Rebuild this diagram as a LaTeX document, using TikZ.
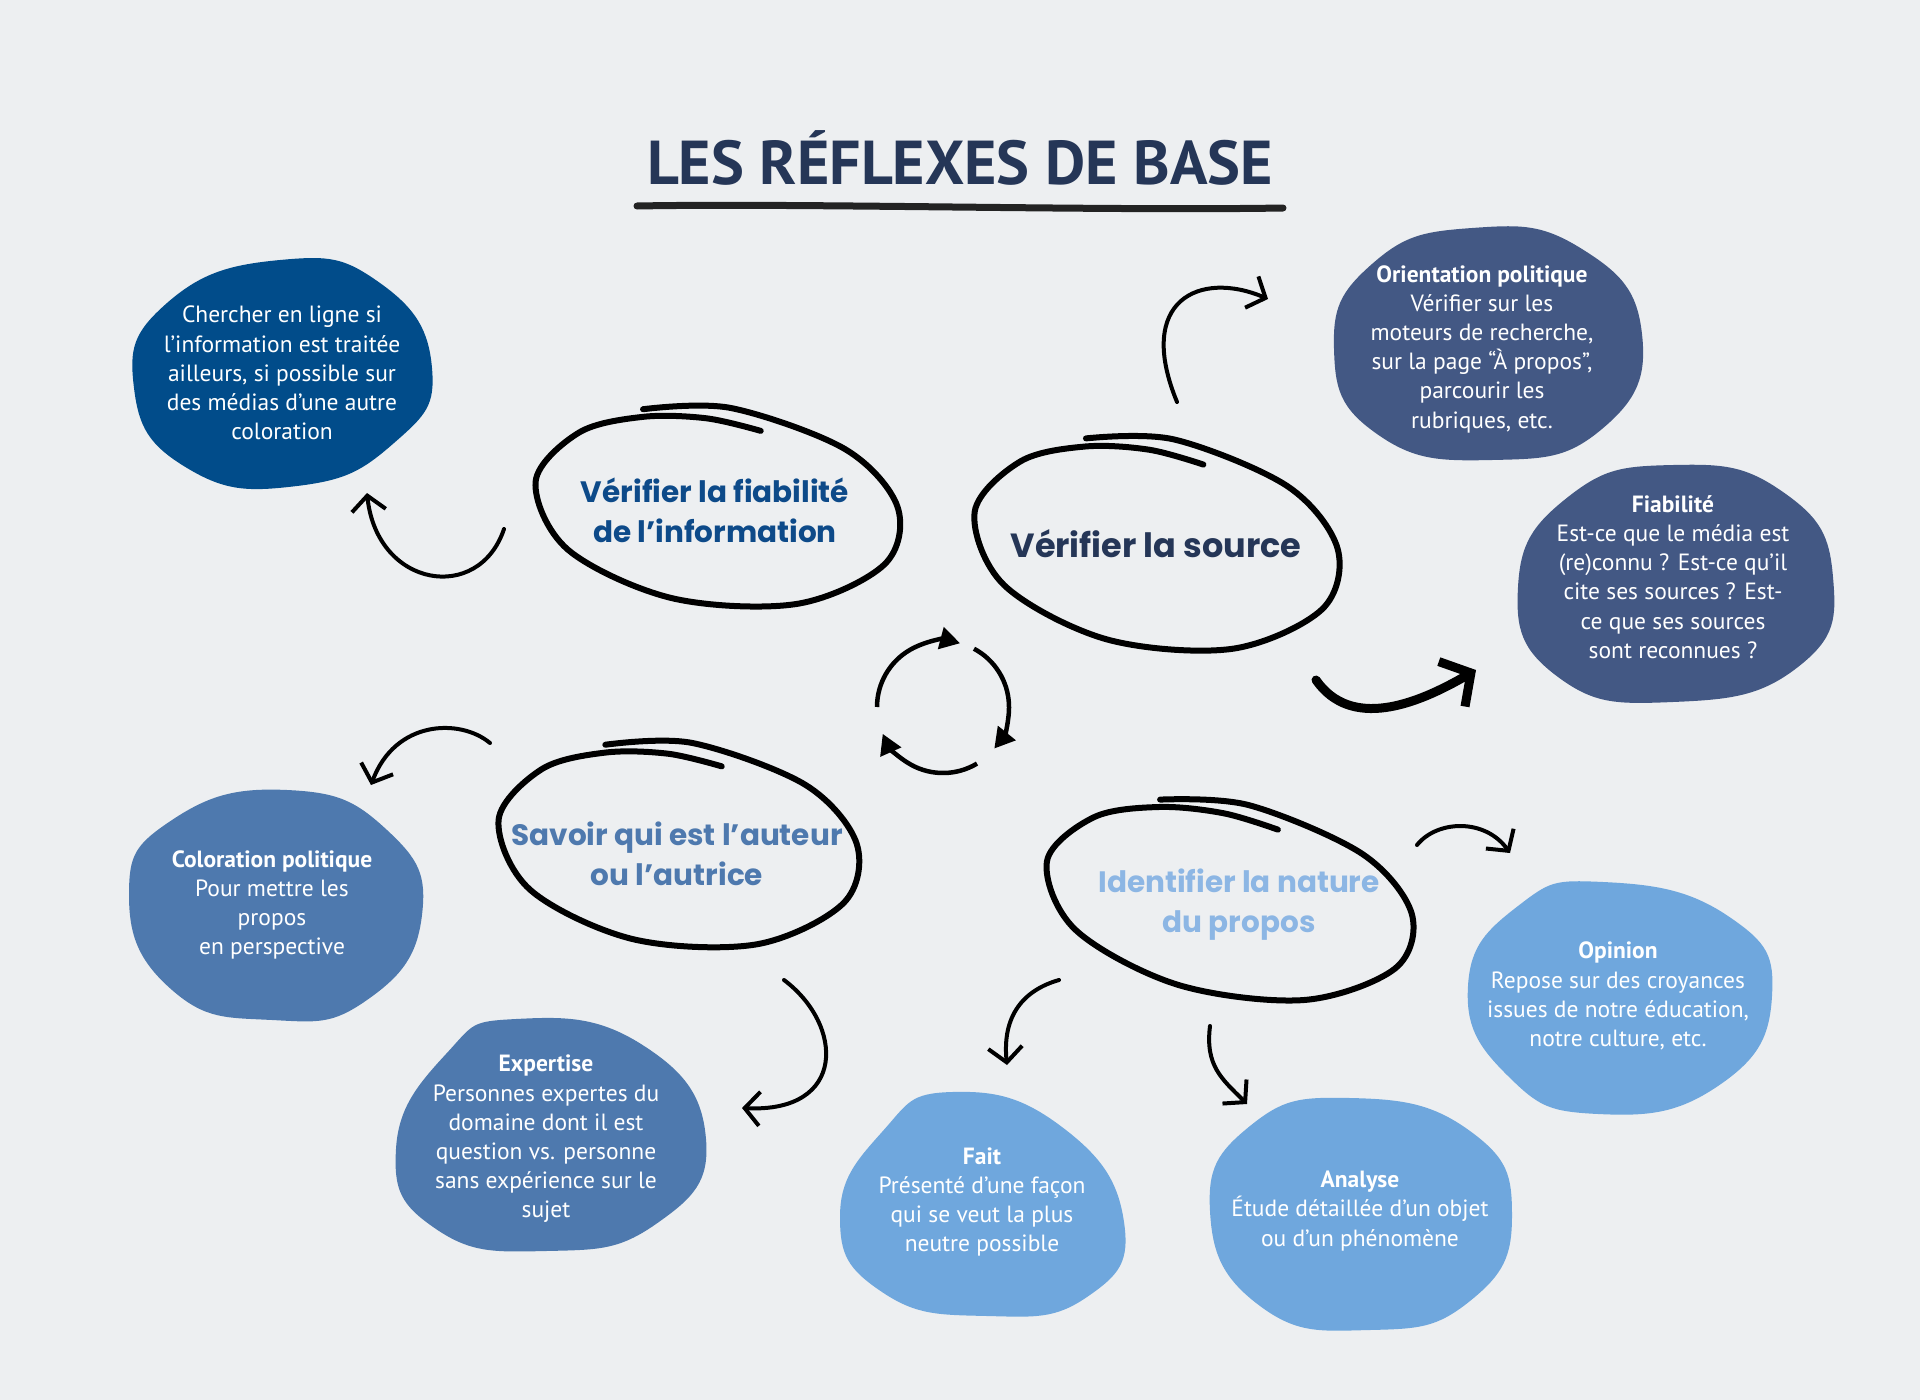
\documentclass[tikz,border=0pt]{standalone}
\usepackage{fontspec}
\setmainfont{PT Sans}
\newfontfamily\headfont{Poppins}
\usetikzlibrary{arrows.meta,backgrounds}

\definecolor{paper}{RGB}{237,239,241}
\definecolor{navy}{RGB}{37,54,87}
\definecolor{deepblue}{RGB}{1,76,138}
\definecolor{slateblue}{RGB}{67,88,132}
\definecolor{midblue}{RGB}{78,121,174}
\definecolor{skyblue}{RGB}{111,167,221}
\definecolor{paleblue}{RGB}{140,182,228}
\definecolor{headblue}{RGB}{13,74,137}

\tikzset{
  bodytext/.style={align=center, text=white, font=\fontsize{23.5}{29.2}\selectfont, inner sep=0pt},
  headtext/.style={align=center, font=\headfont\fontsize{29.5}{40}\selectfont\bfseries, inner sep=0pt},
  scribblepen/.style={line width=6pt, line cap=round, line join=round},
  sketcharrow/.style={line width=4pt, line cap=round, -{Straight Barb[length=15pt,width=34pt]}},
  bigarrow/.style={line width=9pt, line cap=round, -{Straight Barb[length=22pt,width=52pt]}},
  cyclearrow/.style={line width=4.5pt, -{Triangle[length=20pt,width=22pt]}},
  brushline/.style={line width=7pt, line cap=round, black, opacity=0.85}
}

% blob behind a text node
\newcommand{\blobfill}[3]{\fill[#2, shift={(#1)}] plot[smooth cycle, tension=0.85] coordinates {#3};}
% hand drawn ring round a heading
\newcommand{\scribble}[4]{%
  \begin{scope}[shift={(#1)}, rotate=#4, xscale=#2, yscale=#3]
    \draw[scribblepen] plot[smooth, tension=0.55] coordinates {(-118:1.0) (-90:1.02) (-50:1.0) (-15:1.0) (20:1.0) (60:1.0) (100:1.0) (140:1.0) (180:0.99) (215:0.97) (240:0.93) (262:0.89) (282:0.85)};
  \end{scope}}

\begin{document}
\begin{tikzpicture}[x=1pt,y=-1pt]
% title
\node[anchor=base, text=navy, font=\fontsize{62}{64}\selectfont\bfseries, inner sep=0pt] (title) at (960,184) {LES RÉFLEXES DE BASE};
\coordinate (ulStart) at (637,206);
\coordinate (ulEnd) at (1283,208);
\draw[brushline] (ulStart) .. controls (800,203) and (1100,211) .. (ulEnd);

% headings
\node[headtext, text=headblue] (fiabinfo) at (715,510) {Vérifier la fiabilité\\de l’information};
\node[headtext, text=navy, font=\headfont\fontsize{33.5}{40}\selectfont\bfseries] (source) at (1156,544) {Vérifier la source};
\node[headtext, text=midblue] (auteur) at (677,854) {Savoir qui est l’auteur\\ou l’autrice};
\node[headtext, text=paleblue] (nature) at (1239,905) {Identifier la nature\\du propos};

\coordinate (ringA) at (717,507);
\coordinate (ringB) at (1156,544);
\coordinate (ringC) at (678,845);
\coordinate (ringD) at (1229,900);
\scribble{ringA}{185}{98}{-8}
\scribble{ringB}{186}{104}{-10}
\scribble{ringC}{183}{101}{-8}
\scribble{ringD}{188}{95}{-12}

% blobs
\node[bodytext] (chercher) at (282,373) {Chercher en ligne si\\l’information est traitée\\ailleurs, si possible sur\\des médias d’une autre\\coloration};
\node[bodytext] (orient) at (1482,349) {\textbf{Orientation politique}\\Vérifier sur les\\moteurs de recherche,\\sur la page “À propos”,\\parcourir les\\rubriques, etc.};
\node[bodytext] (fiab) at (1673,577) {\textbf{Fiabilité}\\Est-ce que le média est\\(re)connu ? Est-ce qu’il\\cite ses sources ? Est-\\ce que ses sources\\sont reconnues ?};
\node[bodytext] (colorpol) at (272,905) {\textbf{Coloration politique}\\Pour mettre les\\propos\\en perspective};
\node[bodytext] (expert) at (546,1139) {\textbf{Expertise}\\Personnes expertes du\\domaine dont il est\\question vs. personne\\sans expérience sur le\\sujet};
\node[bodytext] (fait) at (982,1202) {\textbf{Fait}\\Présenté d’une façon\\qui se veut la plus\\neutre possible};
\node[bodytext] (analyse) at (1360,1211) {\textbf{Analyse}\\Étude détaillée d’un objet\\ou d’un phénomène};
\node[bodytext] (opinion) at (1618,996) {\textbf{Opinion}\\Repose sur des croyances\\issues de notre éducation,\\notre culture, etc.};

\begin{scope}[on background layer]
\fill[paper] (0,0) rectangle (1920,1400);
\blobfill{chercher}{deepblue}{(-2,-113) (98,-90) (150,-5) (112,70) (15,113) (-95,95) (-148,15) (-115,-70)}
\blobfill{orient}{slateblue}{(-10,-121) (100,-100) (160,-15) (120,80) (10,111) (-105,85) (-148,0) (-110,-85)}
\blobfill{fiab}{slateblue}{(0,-112) (110,-85) (160,0) (125,90) (0,125) (-115,100) (-155,10) (-105,-80)}
\blobfill{colorpol}{midblue}{(15,-115) (115,-75) (150,10) (95,95) (0,115) (-100,85) (-143,-10) (-100,-85)}
\blobfill{expert}{midblue}{(-30,-120) (95,-95) (160,0) (110,85) (0,112) (-110,90) (-150,10) (-100,-85)}
\blobfill{fait}{skyblue}{(-30,-110) (80,-75) (142,20) (105,95) (5,114) (-100,90) (-142,15) (-100,-70)}
\blobfill{analyse}{skyblue}{(-10,-113) (110,-80) (152,5) (110,90) (10,119) (-100,95) (-150,0) (-110,-85)}
\blobfill{opinion}{skyblue}{(-15,-114) (110,-80) (154,0) (100,90) (-20,118) (-110,80) (-150,-10) (-100,-90)}
\end{scope}

% arrows
\coordinate (fiabinfoOut) at (504,529);
\coordinate (chercherIn) at (367,493);
\coordinate (sourceUp) at (1177,402);
\coordinate (orientIn) at (1268,299);
\coordinate (sourceDown) at (1316,680);
\coordinate (fiabIn) at (1476,670);
\coordinate (auteurLeft) at (490,743);
\coordinate (colorpolIn) at (371,785);
\coordinate (auteurDown) at (784,980);
\coordinate (expertIn) at (742,1108);
\coordinate (natureRight) at (1417,845);
\coordinate (opinionIn) at (1510,853);
\coordinate (natureLeft) at (1059,980);
\coordinate (faitIn) at (1007,1065);
\coordinate (natureDown) at (1210,1026);
\coordinate (analyseIn) at (1247,1104);

\draw[sketcharrow] (fiabinfoOut) .. controls +(-25,75) and +(10,95) .. (chercherIn);
\draw[sketcharrow] (sourceUp) .. controls +(-42,-102) and +(-68,-29) .. (orientIn);
\draw[bigarrow] (sourceDown) .. controls +(35,50) and +(-60,35) .. (fiabIn);
\draw[sketcharrow] (auteurLeft) .. controls +(-30,-25) and +(24,-65) .. (colorpolIn);
\draw[sketcharrow] (auteurDown) .. controls +(60,45) and +(105,5) .. (expertIn);
\draw[sketcharrow] (natureRight) .. controls +(20,-25) and +(-25,-35) .. (opinionIn);
\draw[sketcharrow] (natureLeft) .. controls +(-35,10) and +(-5,-50) .. (faitIn);
\draw[sketcharrow] (natureDown) .. controls +(-5,40) and +(-25,-25) .. (analyseIn);

% cycle in the middle
\coordinate (cycle) at (943,707);
\draw[cyclearrow] (cycle) ++(180:66) arc[start angle=180, end angle=285, radius=66];
\draw[cyclearrow] (cycle) ++(298:66) arc[start angle=298, end angle=399, radius=66];
\draw[cyclearrow] (cycle) ++(419:66) arc[start angle=419, end angle=516, radius=66];
\end{tikzpicture}
\end{document}
